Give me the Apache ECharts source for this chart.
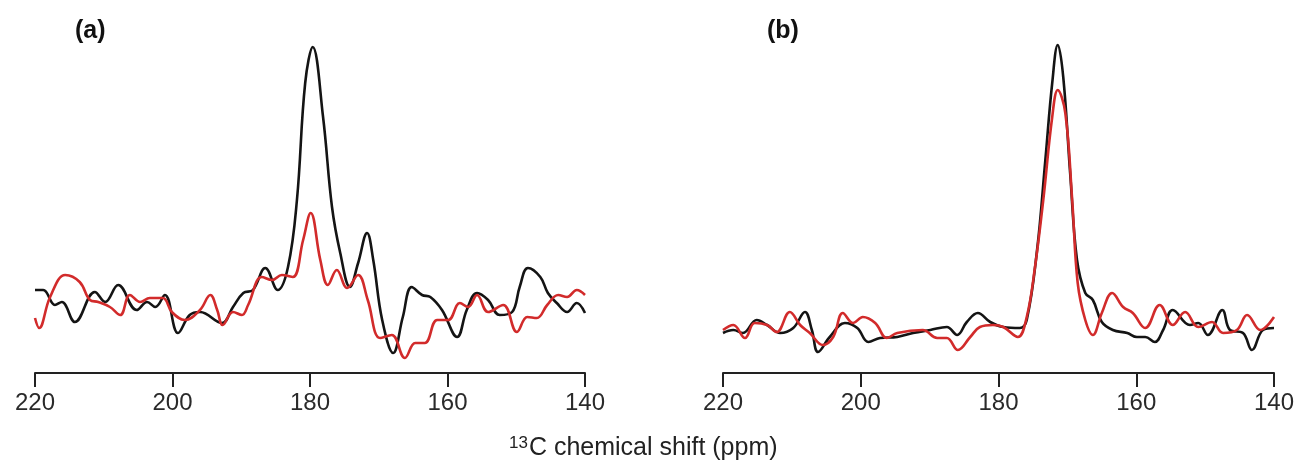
<!DOCTYPE html>
<html>
<head>
<meta charset="utf-8">
<script src="https://cdn.jsdelivr.net/npm/echarts@6/dist/echarts.min.js"></script>
<style>
html,body{margin:0;padding:0;background:#fff;}
#chart{width:1299px;height:462px;}
</style>
</head>
<body>
<div id="chart"></div>
<script>
// x: 13C chemical shift (ppm), y: intensity (arbitrary units)
var xTicks = [220, 200, 180, 160, 140];
var panelLabels = ['(a)', '(b)'];
var axisTitle = '13C chemical shift (ppm)';

var aBlack = [[220,83],[218.8,83],[217.1,68],[216.1,71],[214.2,51],[211.3,81],[209.8,71],[207.9,88],[205.2,63],[203.7,71],[202.5,66],[201.1,78],[199.2,40],[197.5,58],[196.0,61],[192.8,50],[191.2,66],[189.7,80],[188.3,83],[186.5,105],[184.7,83],[183.2,106],[181.9,173],[180.7,290],[179.6,326],[178.1,256],[176.8,166],[175.6,120],[174.2,86],[173.0,110],[171.7,140],[170.8,113],[169.5,53],[167.9,20],[166.5,56],[165.2,86],[163.7,78],[162.5,76],[160.8,63],[158.6,36],[157.2,63],[155.7,80],[154.1,73],[152.4,58],[150.6,61],[149.5,86],[148.3,105],[146.5,96],[145.4,80],[144.1,70],[142.6,61],[141.2,70],[140,60]];
var aRed = [[220,55],[219.4,45],[217.8,76],[215.6,98],[213.5,91],[212.0,73],[210.8,71],[209.1,66],[207.6,58],[206.2,78],[204.7,71],[203.3,75],[201.4,75],[200.1,61],[198.2,53],[196.0,63],[194.5,78],[193.5,63],[192.7,48],[191.2,61],[189.9,58],[189.0,68],[187.0,96],[185.5,93],[184.1,98],[182.5,96],[181.0,133],[179.9,160],[178.5,113],[177.4,88],[176.1,103],[174.6,85],[173.0,98],[171.6,73],[169.8,35],[168.1,38],[166.2,15],[164.7,30],[163.3,30],[161.5,53],[159.9,53],[158.2,70],[157.0,66],[155.7,78],[154.1,61],[151.9,68],[149.9,41],[148.4,56],[147.0,55],[145.5,68],[143.9,78],[142.6,76],[141.2,83],[140,78]];
var bBlack = [[220,40],[218.5,43],[217.1,40],[215.1,53],[213.6,48],[211.7,40],[209.8,45],[208.1,61],[207.1,43],[206.2,21],[204.5,36],[202.3,50],[200.5,45],[198.9,31],[197.2,35],[194.7,36],[192.4,40],[189.9,43],[187.5,46],[186.0,38],[184.6,51],[183.0,60],[181.2,51],[179.3,46],[176.9,45],[175.9,53],[174.4,123],[173.2,213],[172.2,290],[171.4,328],[170.6,296],[169.6,200],[168.6,113],[167.4,80],[166.3,73],[165.0,51],[163.4,43],[161.3,40],[159.9,36],[158.7,36],[157.3,31],[156.1,43],[154.7,63],[152.2,48],[151.0,50],[149.6,38],[147.5,63],[146.4,43],[144.5,40],[143.2,23],[141.6,43],[140,45]];
var bRed = [[220,43],[218.5,48],[216.8,35],[215.4,50],[213.6,48],[212.2,41],[210.3,61],[208.8,48],[207.4,40],[205.5,28],[204.0,36],[202.6,60],[201.1,50],[199.7,56],[197.9,50],[196.2,35],[194.7,40],[191.0,43],[188.9,35],[187.5,35],[185.9,23],[184.1,36],[182.7,46],[180.8,48],[179.3,46],[177.2,36],[175.9,56],[174.7,106],[173.5,173],[172.2,256],[171.4,283],[170.3,260],[169.3,173],[168.5,90],[167.4,53],[166.3,38],[165.0,60],[163.5,80],[161.9,66],[160.5,60],[158.7,45],[156.6,68],[154.7,48],[152.9,61],[151.0,46],[149.0,51],[147.4,40],[145.4,43],[143.9,58],[142.0,43],[140,56]];

var BLACK = '#141414', RED = '#d22b2b';
var FONT = 'Liberation Sans, Arial, sans-serif';
var chart = echarts.init(document.getElementById('chart'), null, {renderer: 'canvas'});

function xAxisCfg(idx) {
  return {
    type: 'value', gridIndex: idx, min: 140, max: 220, interval: 20, inverse: true,
    axisLine: {show: true, onZero: false, lineStyle: {color: '#222', width: 2}},
    axisTick: {show: true, length: 14, inside: false, lineStyle: {color: '#222', width: 2}},
    axisLabel: {show: true, color: '#2a2a2a', fontSize: 24, fontFamily: FONT, margin: 18,
      formatter: function (v) { return xTicks.indexOf(v) >= 0 ? String(v) : ''; }},
    splitLine: {show: false}
  };
}
function yAxisCfg(idx) {
  return {type: 'value', gridIndex: idx, min: 0, max: 333, show: false, splitLine: {show: false}};
}
function line(data, color, idx, z) {
  return {type: 'line', xAxisIndex: idx, yAxisIndex: idx, data: data, smooth: 0.4, showSymbol: false,
    symbol: 'none', z: z, lineStyle: {color: color, width: 2.6}, animation: false};
}

var option = {
  backgroundColor: '#ffffff',
  animation: false,
  grid: [
    {left: 35, width: 550, top: 40, bottom: 89},
    {left: 723, width: 551, top: 40, bottom: 89}
  ],
  xAxis: [xAxisCfg(0), xAxisCfg(1)],
  yAxis: [yAxisCfg(0), yAxisCfg(1)],
  title: [
    {text: panelLabels[0], left: 70, top: 14, textStyle: {fontSize: 25, fontWeight: 'bold', color: '#111', fontFamily: FONT}},
    {text: panelLabels[1], left: 762, top: 14, textStyle: {fontSize: 25, fontWeight: 'bold', color: '#111', fontFamily: FONT}},
    {text: '{sup|' + axisTitle.slice(0, 2) + '}{main|' + axisTitle.slice(2) + '}', left: 504, top: 430,
      textStyle: {fontWeight: 'normal', rich: {
        sup: {fontSize: 17, fontWeight: 'normal', color: '#222', fontFamily: FONT, verticalAlign: 'top', padding: [0, 1, 10, 0]},
        main: {fontSize: 25, fontWeight: 'normal', color: '#222', fontFamily: FONT}
      }}}
  ],
  series: [
    line(aBlack, BLACK, 0, 2),
    line(aRed, RED, 0, 3),
    line(bBlack, BLACK, 1, 2),
    line(bRed, RED, 1, 3)
  ]
};
chart.setOption(option);
</script>
</body>
</html>
